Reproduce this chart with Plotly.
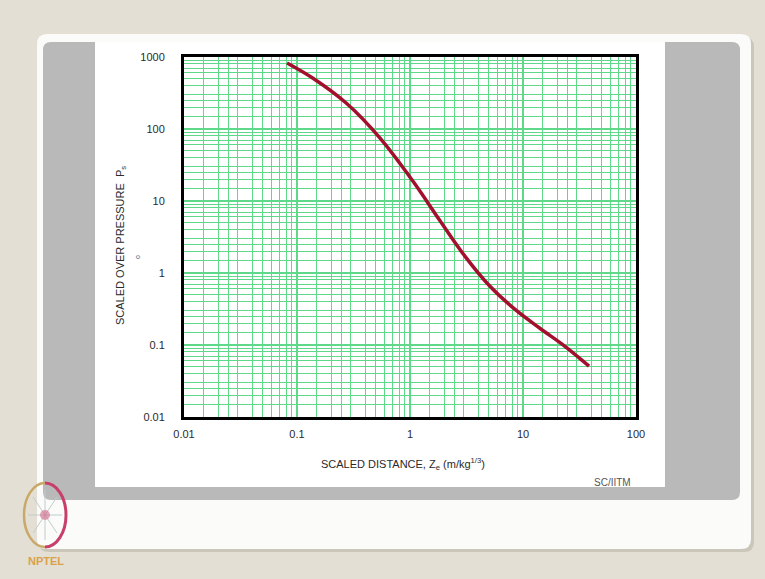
import plotly.graph_objects as go

# ---- data ----
z_scaled = [0.0816, 0.1385, 0.277, 0.543, 1.063, 1.843, 3.07, 5.10, 8.50, 14.1, 23.5, 38.4]
p_scaled = [825, 506, 224, 74.7, 18.8, 5.33, 1.705, 0.654, 0.312, 0.171, 0.0959, 0.0509]

x_tick_vals = [0.01, 0.1, 1, 10, 100]
x_tick_text = ["0.01", "0.1", "1", "10", "100"]
y_tick_vals = [0.01, 0.1, 1, 10, 100, 1000]
y_tick_text = ["0.01", "0.1", "1", "10", "100", "1000"]

x_title = "SCALED DISTANCE, Z<sub>e</sub> (m/kg<sup>1/3</sup>)"
y_title = "SCALED OVER PRESSURE  P<sub>s</sub>"
credit = "SC/IITM"
logo_text = "NPTEL"

# ---- layout geometry (pixels) ----
W, H = 765, 579
L, R, T, B = 184, 636, 57, 417
PW, PH = R - L, B - T

def px(x):
    return (x - L) / PW

def py(y):
    return (B - y) / PH

def rrect(x0, y0, x1, y1, r):
    rx, ry = r / PW, r / PH
    X0, X1, Y0, Y1 = px(x0), px(x1), py(y0), py(y1)  # Y0 top, Y1 bottom
    return (f"M {X0+rx} {Y0} L {X1-rx} {Y0} Q {X1} {Y0} {X1} {Y0-ry} "
            f"L {X1} {Y1+ry} Q {X1} {Y1} {X1-rx} {Y1} "
            f"L {X0+rx} {Y1} Q {X0} {Y1} {X0} {Y1+ry} "
            f"L {X0} {Y0-ry} Q {X0} {Y0} {X0+rx} {Y0} Z")

def half_ellipse(cx, cy, rx, ry, side):
    k = 0.5523
    s = 1 if side == "right" else -1
    pts = [(cx, cy - ry), (cx + s * k * rx, cy - ry), (cx + s * rx, cy - k * ry), (cx + s * rx, cy),
           (cx + s * rx, cy + k * ry), (cx + s * k * rx, cy + ry), (cx, cy + ry)]
    p = [(px(a), py(b)) for a, b in pts]
    return (f"M {p[0][0]} {p[0][1]} C {p[1][0]} {p[1][1]} {p[2][0]} {p[2][1]} {p[3][0]} {p[3][1]} "
            f"C {p[4][0]} {p[4][1]} {p[5][0]} {p[5][1]} {p[6][0]} {p[6][1]}")

def minor_vals(lo, hi):
    out = []
    k = lo
    while k < hi:
        for m in [1.5, 2, 2.5, 3, 4, 5, 6, 7, 8, 9]:
            out.append(m * 10 ** k)
        k += 1
    return out

FONT = "Liberation Sans, Arial, sans-serif"
GRID = "#5fd88a"
BG = "#e4dfd4"

fig = go.Figure()
fig.add_trace(go.Scatter(
    x=z_scaled, y=p_scaled, mode="lines",
    line=dict(color="#a3102e", width=3.5, shape="spline", smoothing=1.0),
    hoverinfo="skip", showlegend=False))

shapes = []
# slide panel shadow + white panel
shapes.append(dict(type="path", xref="paper", yref="paper", layer="below",
                   path=rrect(39, 37, 754, 552, 10), fillcolor="#cbc6ba", line=dict(width=0)))
shapes.append(dict(type="path", xref="paper", yref="paper", layer="below",
                   path=rrect(37, 34, 751, 549, 10), fillcolor="#fbfbf9", line=dict(width=0)))
# grey frame
shapes.append(dict(type="path", xref="paper", yref="paper", layer="below",
                   path=rrect(43, 42, 740, 500, 8), fillcolor="#b9b9b9", line=dict(width=0)))
# white chart image
shapes.append(dict(type="rect", xref="paper", yref="paper", layer="below",
                   x0=px(95), x1=px(665), y0=py(487), y1=py(42),
                   fillcolor="#ffffff", line=dict(width=0)))
# NPTEL logo wheel
for (ax, ay, bx, by) in [(45, 490, 45, 540), (28, 515, 62, 515), (33, 497, 57, 533), (33, 533, 57, 497)]:
    shapes.append(dict(type="line", xref="paper", yref="paper", layer="above",
                       x0=px(ax), x1=px(bx), y0=py(ay), y1=py(by),
                       line=dict(color="#c0cccc", width=1)))
shapes.append(dict(type="circle", xref="paper", yref="paper", layer="above",
                   x0=px(40), x1=px(50), y0=py(520), y1=py(510),
                   fillcolor="rgba(210,80,120,0.5)", line=dict(width=0)))
shapes.append(dict(type="path", xref="paper", yref="paper", layer="above",
                   path=half_ellipse(45, 515, 21, 32, "left"),
                   line=dict(color="#c9a868", width=2.5)))
shapes.append(dict(type="path", xref="paper", yref="paper", layer="above",
                   path=half_ellipse(45, 515, 21, 32, "right"),
                   line=dict(color="#c8406a", width=3)))

annotations = [
    dict(text=x_title, x=px(403), y=py(464), xref="paper", yref="paper",
         showarrow=False, font=dict(family=FONT, size=11, color="#2a2a2a"),
         xanchor="center", yanchor="middle"),
    dict(text=y_title, x=px(121), y=py(246), xref="paper", yref="paper", textangle=-90,
         showarrow=False, font=dict(family=FONT, size=11, color="#2a2a2a"),
         xanchor="center", yanchor="middle"),
    dict(text="o", x=px(137), y=py(257), xref="paper", yref="paper", textangle=-90,
         showarrow=False, font=dict(family=FONT, size=7, color="#555555"),
         xanchor="center", yanchor="middle"),
    dict(text=credit, x=px(612), y=py(482), xref="paper", yref="paper",
         showarrow=False, font=dict(family=FONT, size=10, color="#555555"),
         xanchor="center", yanchor="middle"),
    dict(text="<b>" + logo_text + "</b>", x=px(46), y=py(561), xref="paper", yref="paper",
         showarrow=False, font=dict(family=FONT, size=11, color="#d9a24a"),
         xanchor="center", yanchor="middle"),
]

axis_common = dict(
    type="log", showline=True, linecolor="#000000", linewidth=3, mirror=True,
    showgrid=True, gridcolor=GRID, gridwidth=1.6, zeroline=False,
    ticks="outside", tickcolor="rgba(0,0,0,0)",
    tickfont=dict(family=FONT, size=11, color="#2a2a2a"),
    tickmode="array",
)

fig.update_layout(
    width=W, height=H,
    margin=dict(l=L, r=W - R, t=T, b=H - B, pad=0),
    paper_bgcolor=BG, plot_bgcolor="#f3fcf5",
    shapes=shapes, annotations=annotations,
    xaxis=dict(axis_common, range=[-2, 2], tickvals=x_tick_vals, ticktext=x_tick_text, ticklen=5,
               minor=dict(tickmode="array", tickvals=minor_vals(-2, 2), showgrid=True,
                          gridcolor=GRID, gridwidth=1.2, ticks="")),
    yaxis=dict(axis_common, range=[-2, 3], tickvals=y_tick_vals, ticktext=y_tick_text, ticklen=14,
               minor=dict(tickmode="array", tickvals=minor_vals(-2, 3), showgrid=True,
                          gridcolor=GRID, gridwidth=1.2, ticks="")),
    showlegend=False,
)

fig.write_html("out.html",
               config={"displayModeBar": False},
               post_script="document.body.style.margin='0';document.body.style.padding='0';"
                           "document.body.style.background='" + BG + "';")
